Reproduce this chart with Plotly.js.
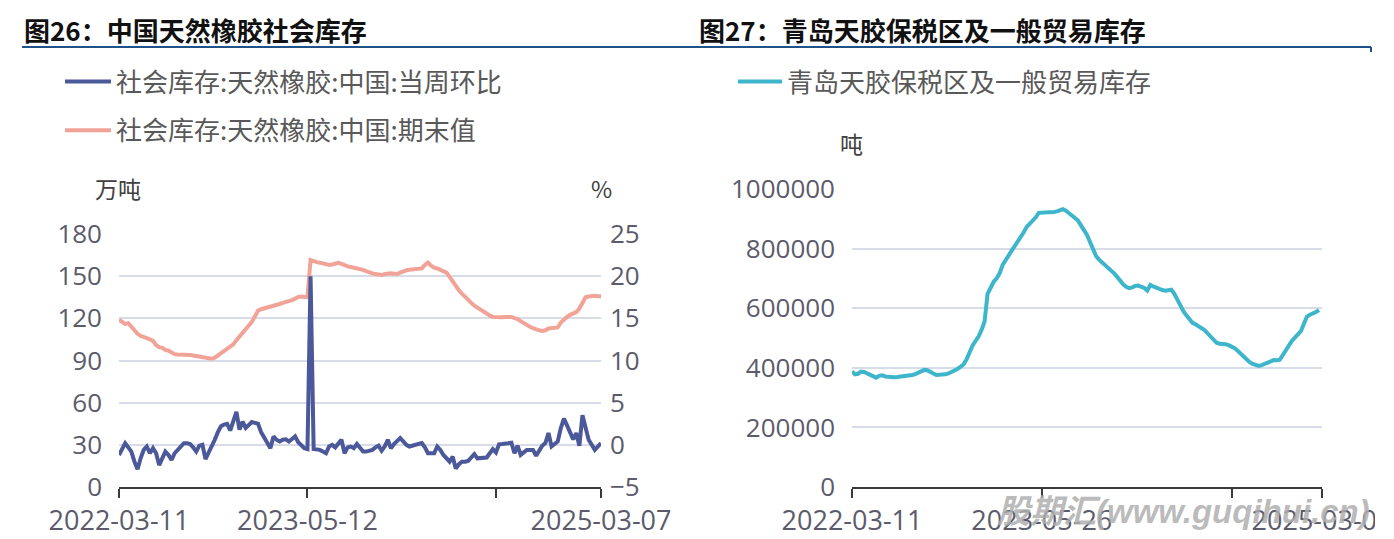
<!DOCTYPE html>
<html><head><meta charset="utf-8">
<script src="https://cdn.plot.ly/plotly-3.0.1.min.js"></script>
<style>html,body{margin:0;padding:0;background:#fff;}#chart{width:1394px;height:539px;}</style>
</head><body><div id="chart"></div>
<script>
// 社会库存:天然橡胶:中国:期末值 (万吨), weekly from 2022-03-11
const stockEnd = [119,117.5,116,116.5,114,111,109,107.5,107,106,
105,104,101,99.5,99,97.5,97,95.5,94.5,94.3,
94.3,94.2,94.2,94,93.5,93,92.8,92,91.5,91.1,
91.2,92,93.5,95,96.5,98.5,100,101.5,104.5,107,
109.5,112,114.5,117.5,121.5,125.5,126.5,127,127.5,128,
128.5,129.5,130.2,131,131.5,132.5,133,134,135.3,135.5,
135,135,161.5,160.6,160,159.6,159,158.4,158,158.3,
159,159.5,158.7,157.5,157,156.5,156,155.8,155.5,154.5,
153.5,152.5,152,151.5,151.2,150.8,151.5,152,152,151.8,
151.5,152.5,153.5,154.2,154.5,154.8,155,154.9,155.5,158,
159.6,157.5,156,155.5,154.5,153.5,152.5,149.5,146,143,
140,137.5,135,133,131,129,127.5,126,124.5,123.5,
122,121,120.7,120.5,120.7,121,121.2,121,120.2,119.5,
118,116.5,115,114,113,112,111.5,111,111.5,112.8,
113,113.3,113.5,117,119.5,121,122.5,123.5,124.5,127,
131,135,135.5,136,136,135.8,135.8];

// 社会库存:天然橡胶:中国:当周环比 (%)
const wowPct = [-1.2,-0.5,0.2,-0.3,-0.8,-2.0,-2.9,-1.6,-0.6,-0.2,
-1.0,-0.4,-1.0,-2.4,-1.5,-0.8,-1.2,-1.8,-1.0,-0.6,
-0.1,0.2,0.2,0.1,-0.3,-0.8,-0.1,0,-1.7,-1.0,
-0.3,0.6,1.5,2.2,2.4,2.5,1.7,2.8,3.9,1.8,
2.75,2.0,2.3,2.7,2.6,2.5,1.5,0.8,0.2,-0.4,
1.0,0.6,0.4,0.6,0.65,0.4,0.7,1.0,0.3,-0.1,
-0.4,-0.5,20.0,-0.5,-0.5,-0.6,-0.8,-1.0,-0.2,0,
-0.3,0.2,0.6,-1.0,-0.3,-0.2,-0.4,0.1,-0.3,-0.8,
-0.8,-0.7,-0.6,-0.3,-0.1,-0.7,-0.2,0.6,-0.4,0.1,
0.5,0.8,0.4,0,-0.2,-0.1,0,0.1,0.2,-0.3,
-1.0,-1.0,-1.0,-0.2,-0.6,-1.2,-1.6,-2.0,-1.4,-2.8,
-2.3,-2.0,-2.0,-1.9,-1.5,-1.1,-1.6,-1.6,-1.5,-1.5,
-1.0,-0.5,-0.9,0.06,0.1,0.1,0.2,0.26,-1.0,-0.1,
-1.2,-0.9,-0.6,-0.6,-0.6,-1.3,-0.6,-0.1,0.2,1.4,
-0.2,0.1,0.4,2.0,3.1,2.3,1.56,0.65,1.4,-0.1,
3.5,2.0,0.6,0,-0.6,-0.2,0.2];

// 青岛天胶保税区及一般贸易库存 (吨)
const qingdaoStock = [388000,378000,380000,387000,386000,381000,377000,372000,367000,373000,
375000,371000,369000,368000,368000,369000,370000,371000,372000,374000,
376000,379000,383000,388000,393000,392000,388000,381000,376000,376000,
376000,378000,381000,385000,389000,396000,403000,411000,428000,455000,
474000,490000,505000,527000,555000,648000,670000,688000,700000,717000,
745000,763000,778000,793000,808000,822000,836000,855000,873000,884000,
893000,905000,920000,920000,921000,922000,922000,923000,925000,930000,
932000,927000,920000,912000,903000,894000,880000,862000,846000,822000,
805000,775000,763000,754000,746000,738000,728000,717000,705000,692000,
680000,672000,667000,670000,675000,676000,673000,668000,659000,678000,
673000,668000,664000,661000,659000,660000,662000,648000,627000,610000,
590000,576000,562000,551000,546000,540000,533000,527000,516000,504000,
492000,484000,481000,481000,479000,476000,471000,466000,457000,447000,
437000,427000,419000,413000,409000,406000,409000,413000,418000,424000,
426000,425000,427000,443000,460000,476000,490000,501000,511000,523000,
548000,572000,578000,581000,587000,594000];

const leftTickIdx = [0, 61, 122, 156];
const leftTickText = ['2022-03-11', '2023-05-12', '', '2025-03-07'];
const rightTickIdx = [0, 63, 126, 156];
const rightTickText = ['2022-03-11', '2023-05-26', '', '2025-03-07'];

const W = 1394, H = 539;
const px = x => x / W;
const py = y => 1 - y / H;
const FONT = '"Noto Sans CJK SC", "Noto Sans", sans-serif';
const NUMFONT = '"Open Sans", "Noto Sans", sans-serif';
const TICKCOL = '#5b5b6b';
const GRID = '#d8dbe8';

const traces = [
  {type:'scatter', mode:'lines', y: wowPct, xaxis:'x', yaxis:'y2',
   name:'社会库存:天然橡胶:中国:当周环比', legend:'legend', legendgroup:'a',
   line:{color:'#4b5899', width:4}},
  {type:'scatter', mode:'lines', y: stockEnd, xaxis:'x', yaxis:'y',
   name:'社会库存:天然橡胶:中国:期末值', legend:'legend', legendgroup:'b',
   line:{color:'#f2a398', width:4}},
  {type:'scatter', mode:'lines', y: qingdaoStock, xaxis:'x2', yaxis:'y3',
   name:'青岛天胶保税区及一般贸易库存', legend:'legend2',
   line:{color:'#3db5cb', width:4}}
];

const xBase = {showgrid:false, zeroline:false, showline:true, linecolor:'#3a3a3a', linewidth:2,
  ticks:'outside', ticklen:9, tickwidth:2, tickcolor:'#3a3a3a',
  tickfont:{family:NUMFONT, size:27, color:TICKCOL}, tickmode:'array', fixedrange:true};
const yBase = {zeroline:false, showline:false, ticks:'', gridcolor:GRID, gridwidth:2,
  tickfont:{family:NUMFONT, size:26, color:TICKCOL}, fixedrange:true};

const layout = {
  width: W, height: H, margin:{l:0,r:0,t:0,b:0}, paper_bgcolor:'#fff', plot_bgcolor:'#fff',
  hovermode:false, showlegend:true,
  xaxis: Object.assign({}, xBase, {domain:[px(119), px(601)], range:[0,156], anchor:'y',
    tickvals:leftTickIdx, ticktext:leftTickText}),
  yaxis: Object.assign({}, yBase, {domain:[py(487), py(234)], range:[0,180], dtick:30, tick0:0,
    anchor:'x', ticklabelstandoff:16}),
  yaxis2: Object.assign({}, yBase, {overlaying:'y', side:'right', range:[-5,25], dtick:5, tick0:0,
    anchor:'x', showgrid:false, ticklabelstandoff:8}),
  xaxis2: Object.assign({}, xBase, {domain:[px(852), px(1322)], range:[0,156], anchor:'y3',
    tickvals:rightTickIdx, ticktext:rightTickText}),
  yaxis3: Object.assign({}, yBase, {domain:[py(487), py(189)], range:[0,1000000], dtick:200000,
    tick0:0, tickformat:'d', anchor:'x2', ticklabelstandoff:16}),
  legend: {x:px(60), xanchor:'left', y:py(58), yanchor:'top', bgcolor:'rgba(0,0,0,0)',
    font:{family:FONT, size:26, color:'#595959'}, traceorder:'grouped', tracegroupgap:12, itemwidth:46},
  legend2: {x:px(733), xanchor:'left', y:py(58), yanchor:'top', bgcolor:'rgba(0,0,0,0)',
    font:{family:FONT, size:26, color:'#595959'}, itemwidth:44},
  annotations: [
    {text:'<b>图26：中国天然橡胶社会库存</b>', xref:'paper', yref:'paper', x:px(22), y:py(30),
     xanchor:'left', yanchor:'middle', showarrow:false, font:{family:FONT, size:26, color:'#111'}},
    {text:'<b>图27：青岛天胶保税区及一般贸易库存</b>', xref:'paper', yref:'paper', x:px(697), y:py(30),
     xanchor:'left', yanchor:'middle', showarrow:false, font:{family:FONT, size:26, color:'#111'}},
    {text:'万吨', xref:'paper', yref:'paper', x:px(118), y:py(188), xanchor:'center', yanchor:'middle',
     showarrow:false, font:{family:FONT, size:23, color:'#404040'}},
    {text:'%', xref:'paper', yref:'paper', x:px(601), y:py(188), xanchor:'center', yanchor:'middle',
     showarrow:false, font:{family:FONT, size:23, color:'#404040'}},
    {text:'吨', xref:'paper', yref:'paper', x:px(851), y:py(143), xanchor:'center', yanchor:'middle',
     showarrow:false, font:{family:FONT, size:23, color:'#404040'}},
    {text:'<b><i>股期汇(www.guqihui.cn)</i></b>', xref:'paper', yref:'paper', x:px(1183), y:py(511),
     xanchor:'center', yanchor:'middle', showarrow:false,
     font:{family:'"Liberation Sans", "Noto Sans CJK SC", sans-serif', size:33, color:'rgba(175,175,175,0.85)'}}
  ],
  shapes: [
    {type:'line', xref:'paper', yref:'paper', x0:px(22), x1:px(1371), y0:py(47), y1:py(47),
     line:{color:'#1f5288', width:2}},
    {type:'line', xref:'paper', yref:'paper', x0:px(1371), x1:px(1371), y0:py(47), y1:py(52),
     line:{color:'#1f5288', width:2}},
    {type:'rect', xref:'paper', yref:'paper', x0:px(1375), x1:1, y0:0, y1:py(492),
     fillcolor:'#fff', line:{width:0}, layer:'above'}
  ]
};

Plotly.newPlot('chart', traces, layout, {displayModeBar:false, staticPlot:true});
</script>
</body></html>
